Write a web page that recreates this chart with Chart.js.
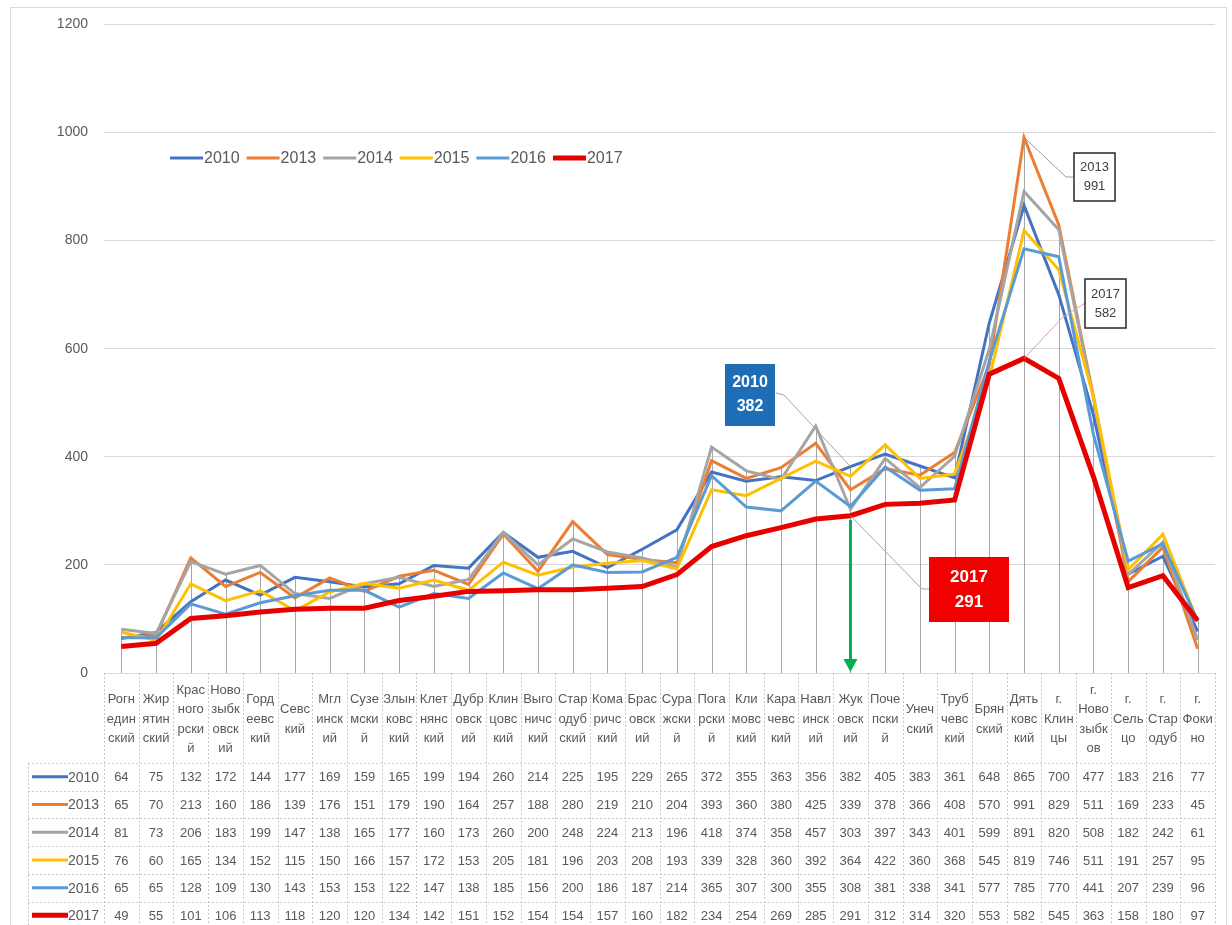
<!DOCTYPE html>
<html><head><meta charset="utf-8">
<script src="https://cdn.jsdelivr.net/npm/chart.js@4"></script>
<style>html,body{margin:0;padding:0;background:#fff;}canvas{display:block}</style>
</head><body><canvas id="c" width="1232" height="925"></canvas>
<script>
const categories = [
 ['Рогн','един','ский'],['Жир','ятин','ский'],['Крас','ного','рски','й'],['Ново','зыбк','овск','ий'],
 ['Горд','еевс','кий'],['Севс','кий'],['Мгл','инск','ий'],['Сузе','мски','й'],['Злын','ковс','кий'],
 ['Клет','нянс','кий'],['Дубр','овск','ий'],['Клин','цовс','кий'],['Выго','ничс','кий'],['Стар','одуб','ский'],
 ['Кома','ричс','кий'],['Брас','овск','ий'],['Сура','жски','й'],['Пога','рски','й'],['Кли','мовс','кий'],
 ['Кара','чевс','кий'],['Навл','инск','ий'],['Жук','овск','ий'],['Поче','пски','й'],['Унеч','ский'],
 ['Труб','чевс','кий'],['Брян','ский'],['Дять','ковс','кий'],['г.','Клин','цы'],['г.','Ново','зыбк','ов'],
 ['г.','Сель','цо'],['г.','Стар','одуб'],['г.','Фоки','но']
];
const years = ['2010','2013','2014','2015','2016','2017'];
const v2010 = [64,75,132,172,144,177,169,159,165,199,194,260,214,225,195,229,265,372,355,363,356,382,405,383,361,648,865,700,477,183,216,77];
const v2013 = [65,70,213,160,186,139,176,151,179,190,164,257,188,280,219,210,204,393,360,380,425,339,378,366,408,570,991,829,511,169,233,45];
const v2014 = [81,73,206,183,199,147,138,165,177,160,173,260,200,248,224,213,196,418,374,358,457,303,397,343,401,599,891,820,508,182,242,61];
const v2015 = [76,60,165,134,152,115,150,166,157,172,153,205,181,196,203,208,193,339,328,360,392,364,422,360,368,545,819,746,511,191,257,95];
const v2016 = [65,65,128,109,130,143,153,153,122,147,138,185,156,200,186,187,214,365,307,300,355,308,381,338,341,577,785,770,441,207,239,96];
const v2017 = [49,55,101,106,113,118,120,120,134,142,151,152,154,154,157,160,182,234,254,269,285,291,312,314,320,553,582,545,363,158,180,97];
const yTicks = [0,200,400,600,800,1000,1200];
const seriesValues = [v2010,v2013,v2014,v2015,v2016,v2017];
const colors = ['#4472C4','#ED7D31','#A5A5A5','#FFC000','#5B9BD5','#E60000'];
const widths = [3,3,3,3,3,5];

const TXT = '#595959';
const FONT = '"Liberation Sans", Arial, sans-serif';

const datasets = years.map((y,i)=>({
  label: y, data: seriesValues[i], borderColor: colors[i], backgroundColor: colors[i],
  borderWidth: widths[i], pointRadius: 0, tension: 0, order: 6 - i, borderJoinStyle:'miter'
}));

const framePlugin = {
  id:'frame',
  beforeDraw(chart){
    const c = chart.ctx;
    c.save(); c.fillStyle='#fff'; c.fillRect(0,0,chart.width,chart.height);
    c.strokeStyle='#D9D9D9'; c.lineWidth=1;
    c.strokeRect(10.5,7.5,1216,940);
    c.restore();
  }
};

const dropPlugin = {
  id:'drop',
  beforeDatasetsDraw(chart){
    const c = chart.ctx, xs = chart.scales.x, ys = chart.scales.y;
    c.save(); c.strokeStyle='#A6A6A6'; c.lineWidth=1;
    categories.forEach((_,i)=>{
      const mx = Math.max(...seriesValues.map(s=>s[i]));
      const x = Math.round(xs.getPixelForValue(i))+0.5;
      c.beginPath(); c.moveTo(x, ys.getPixelForValue(mx)); c.lineTo(x, ys.getPixelForValue(0)); c.stroke();
    });
    c.restore();
  }
};

const tablePlugin = {
  id:'table',
  afterDraw(chart){
    const c = chart.ctx, xs = chart.scales.x;
    const n = categories.length;
    const colW = xs.getPixelForValue(1) - xs.getPixelForValue(0);
    const left0 = xs.getPixelForValue(0) - colW/2;
    const right = xs.getPixelForValue(n-1) + colW/2;
    const headTop = chart.chartArea.bottom;
    const headBot = xs.bottom;
    const rowH = 27.7;
    const tableLeft = 28;
    const bottom = headBot + rowH*years.length;
    c.save();
    c.strokeStyle='#C8C8C8'; c.lineWidth=1; c.setLineDash([2,2]);
    for(let i=0;i<=n;i++){
      const x = Math.round(left0 + i*colW)+0.5;
      c.beginPath(); c.moveTo(x, headTop); c.lineTo(x, bottom); c.stroke();
    }
    c.beginPath(); c.moveTo(tableLeft+0.5, headBot); c.lineTo(tableLeft+0.5, bottom); c.stroke();
    for(let r=0;r<=years.length;r++){
      const y = Math.round(headBot + r*rowH)+0.5;
      c.beginPath(); c.moveTo(tableLeft, y); c.lineTo(right, y); c.stroke();
    }
    c.setLineDash([]);
    c.font = '13px '+FONT; c.fillStyle=TXT; c.textAlign='center'; c.textBaseline='middle';
    years.forEach((yr,r)=>{
      const yc = headBot + r*rowH + rowH/2;
      seriesValues[r].forEach((v,i)=>{
        c.fillText(String(v), xs.getPixelForValue(i), yc+1);
      });
      c.strokeStyle = colors[r]; c.lineWidth = widths[r]; c.lineCap='butt';
      c.beginPath(); c.moveTo(tableLeft+4, yc); c.lineTo(tableLeft+40, yc); c.stroke();
      c.textAlign='left'; c.font='14px '+FONT;
      c.fillText(yr, tableLeft+40, yc+1);
      c.textAlign='center'; c.font='13px '+FONT;
    });
    c.restore();
  }
};

const legendPlugin = {
  id:'customLegend',
  afterDraw(chart){
    const c = chart.ctx;
    c.save(); c.font='16px '+FONT; c.textBaseline='middle'; c.textAlign='left';
    let x = 170; const y = 158;
    years.forEach((yr,i)=>{
      c.strokeStyle=colors[i]; c.lineWidth=widths[i];
      c.beginPath(); c.moveTo(x,y); c.lineTo(x+33,y); c.stroke();
      c.fillStyle=TXT; c.fillText(yr, x+34, y+1);
      x += 34 + c.measureText(yr).width + 7;
    });
    c.restore();
  }
};

function box(c, x, y, w, h, fill, stroke, lines, font, color){
  c.fillStyle = fill; c.fillRect(x,y,w,h);
  if(stroke){ c.strokeStyle=stroke; c.lineWidth=1.5; c.strokeRect(x,y,w,h); }
  c.fillStyle=color; c.font=font; c.textAlign='center'; c.textBaseline='middle';
  const lh = h/(lines.length+0.6);
  lines.forEach((t,k)=> c.fillText(t, x+w/2, y + h/2 + (k-(lines.length-1)/2)*lh));
}

const calloutPlugin = {
  id:'callouts',
  afterDatasetsDraw(chart){
    const c = chart.ctx, xs = chart.scales.x, ys = chart.scales.y;
    const iD = 26, iJ = 21;
    c.save();
    const pA = [xs.getPixelForValue(iD), ys.getPixelForValue(v2013[iD])];
    c.strokeStyle='#9E9E9E'; c.lineWidth=1;
    c.beginPath(); c.moveTo(pA[0],pA[1]); c.lineTo(1066,177); c.lineTo(1074,177); c.stroke();
    const pB = [xs.getPixelForValue(iD), ys.getPixelForValue(v2017[iD])];
    c.strokeStyle='#D9A0B0';
    c.beginPath(); c.moveTo(pB[0],pB[1]); c.lineTo(1062,318); c.lineTo(1085,303); c.stroke();
    const pC = [xs.getPixelForValue(iJ), ys.getPixelForValue(v2010[iJ])];
    c.strokeStyle='#A6A6A6';
    c.beginPath(); c.moveTo(776,393); c.lineTo(784,395); c.lineTo(pC[0],pC[1]); c.stroke();
    const pD = [xs.getPixelForValue(iJ), ys.getPixelForValue(v2017[iJ])];
    c.beginPath(); c.moveTo(pD[0],pD[1]); c.lineTo(922,589); c.lineTo(929,589); c.stroke();
    const y0 = ys.getPixelForValue(0);
    c.strokeStyle='#00B050'; c.fillStyle='#00B050'; c.lineWidth=3;
    c.beginPath(); c.moveTo(pD[0], pD[1]+4); c.lineTo(pD[0], y0-12); c.stroke();
    c.beginPath(); c.moveTo(pD[0]-7, y0-14); c.lineTo(pD[0]+7, y0-14); c.lineTo(pD[0], y0-1); c.closePath(); c.fill();
    box(c, 1074, 153, 41, 48, '#fff', '#262626', ['2013','991'], '13px '+FONT, '#404040');
    box(c, 1085, 279, 41, 49, '#fff', '#262626', ['2017','582'], '13px '+FONT, '#404040');
    box(c, 725, 364, 50, 62, '#1F6DB5', null, ['2010','382'], 'bold 16px '+FONT, '#fff');
    box(c, 929, 557, 80, 65, '#F00000', null, ['2017','291'], 'bold 17px '+FONT, '#fff');
    c.restore();
  }
};

new Chart(document.getElementById('c'), {
  type:'line',
  data:{ labels: categories, datasets },
  options:{
    responsive:false, animation:false, devicePixelRatio:1,
    layout:{ padding:{ left:0, right:17, top:20, bottom:162 } },
    plugins:{ legend:{display:false}, tooltip:{enabled:false} },
    scales:{
      x:{
        type:'category', offset:true,
        grid:{ display:false, drawTicks:false },
        border:{ display:false },
        ticks:{ autoSkip:false, maxRotation:0, minRotation:0, padding:17, crossAlign:'center',
          color:TXT, font:{ family:FONT, size:13, lineHeight:'19.5px' } },
        afterFit(s){ s.height = 90; }
      },
      y:{
        min:0, max:1200,
        afterBuildTicks(s){ s.ticks = yTicks.map(v=>({value:v})); },
        grid:{ color:'#D9D9D9', lineWidth:1, drawTicks:false },
        border:{ display:false },
        ticks:{ padding:16, color:TXT, font:{ family:FONT, size:14 }, callback:(v)=>String(v) },
        afterFit(s){ s.width = 104; }
      }
    }
  },
  plugins:[framePlugin, dropPlugin, tablePlugin, legendPlugin, calloutPlugin]
});
</script></body></html>
